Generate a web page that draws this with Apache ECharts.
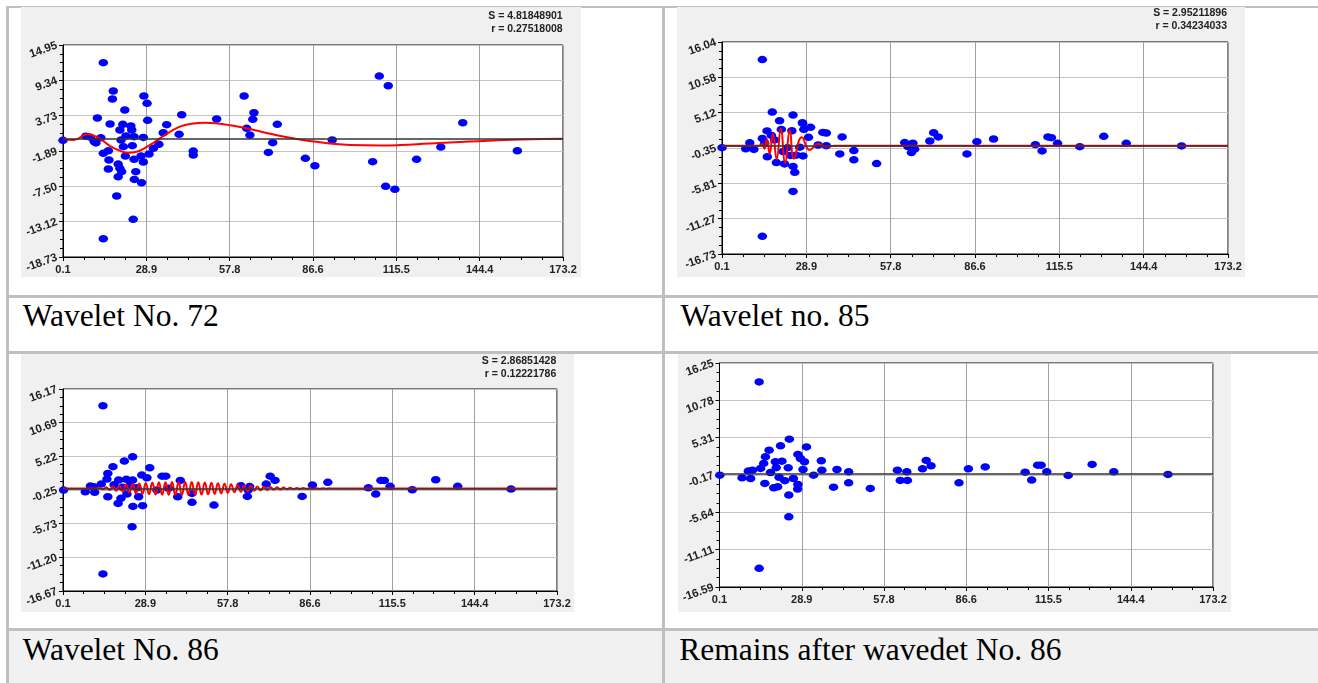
<!DOCTYPE html>
<html><head><meta charset="utf-8">
<script src="https://cdn.jsdelivr.net/npm/echarts@6/dist/echarts.min.js"></script>
<style>
html,body{margin:0;padding:0;background:#fff;width:1318px;height:683px;overflow:hidden;position:relative}
.hl{position:absolute;left:6px;width:1312px;background:#c0c0c0}
.vl{position:absolute;top:6px;height:677px;width:3px;background:#c0c0c0}
.cap{position:absolute;font-family:"Liberation Serif","Times New Roman",serif;font-size:31.5px;line-height:1;color:#000;white-space:nowrap}
.panel{position:absolute}
</style></head>
<body>
<div style="position:absolute;left:8px;top:631px;width:1310px;height:52px;background:#f1f1f1"></div>
<div class="hl" style="top:5.5px;height:2px"></div>
<div class="hl" style="top:294.5px;height:3px"></div>
<div class="hl" style="top:351px;height:3px"></div>
<div class="hl" style="top:628px;height:3px"></div>
<div class="vl" style="left:6px"></div>
<div class="vl" style="left:661.5px"></div>
<div class="cap" style="left:22.7px;top:300.3px">Wavelet No. 72</div>
<div class="cap" style="left:680.5px;top:300.3px">Wavelet no. 85</div>
<div class="cap" style="left:22.7px;top:633.6px">Wavelet No. 86</div>
<div class="cap" style="left:679.3px;top:633.6px">Remains after wavedet No. 86</div>
<div id="c1" class="panel" style="left:21px;top:7px;width:560px;height:270px"></div>
<div id="c2" class="panel" style="left:677px;top:7px;width:568px;height:270px"></div>
<div id="c3" class="panel" style="left:21px;top:354px;width:553px;height:258px"></div>
<div id="c4" class="panel" style="left:678px;top:354px;width:553px;height:258px"></div>
<script>
// ---------------- data ----------------
const xTickLabels = ['0.1','28.9','57.8','86.6','115.5','144.4','173.2'];
const w72YTicks = ['-18.73','-13.12','-7.50','-1.89','3.73','9.34','14.95'];
const w85YTicks = ['-16.73','-11.27','-5.81','-0.35','5.12','10.58','16.04'];
const w86YTicks = ['-16.67','-11.20','-5.73','-0.25','5.22','10.69','16.17'];
const remYTicks = ['-16.59','-11.11','-5.64','-0.17','5.31','10.78','16.25'];

const w72Stats = ['S = 4.81848901','r = 0.27518008'];
const w85Stats = ['S = 2.95211896','r = 0.34234033'];
const w86Stats = ['S = 2.86851428','r = 0.12221786'];

const w72Points = [[0.1,-0.2],[8.0,0.45],[9.5,0.3],[10.9,-0.4],[11.5,-0.6],[13.2,0.2],
[12.0,3.35],[14.05,12.14],[17.5,7.64],[17.2,6.37],[16.4,2.40],
[14.05,-2.26],[15.8,-1.85],[16.0,-3.32],[15.8,-4.75],[19.2,-3.96],[19.8,-4.64],[19.2,-5.98],[20.4,-5.18],[18.7,-9.04],[14.05,-15.83],[24.4,-12.75],
[21.5,4.62],[20.8,2.35],[19.8,1.45],[23.6,2.08],[23.9,1.45],[21.9,0.49],[24.7,0.38],[20.2,-0.14],[21.0,-1.21],[24.1,-1.05],[21.7,-2.69],[24.7,-3.22],[27.1,-2.69],[27.9,-3.64],[25.3,-5.18],[24.8,-6.40],[27.3,-6.93],[27.9,0.27],[28.1,6.85],[29.2,5.69],[29.4,2.98],[29.9,-2.37],[31.4,-1.47],[33.3,-0.83],[34.8,1.01],[36.0,2.29],[40.3,0.76],[41.2,3.87],[45.2,-1.90],[45.2,-2.53],
[53.3,3.19],[62.8,6.85],[66.2,4.19],[65.8,3.14],[63.7,1.71],[64.8,0.64],[74.3,2.35],[72.7,-0.57],[71.2,-2.11],[84.0,-3.06],[87.3,-4.23],[93.3,-0.14],
[109.6,10.02],[112.7,8.48],[107.3,-3.59],[111.8,-7.50],[115.0,-7.98],[122.5,-3.22],[130.9,-1.26],[138.5,2.60],[157.4,-1.85]];
const w72Curve = [[0.1,0.1],[3.7,-0.15],[8.5,0.76],[11.2,0.45],[13.6,-0.15],[16.4,-1.1],[19.2,-1.74],[22.7,-2.17],[25.6,-2.0],[28.5,-1.38],[31.9,-0.42],[35.4,0.65],[40.0,1.87],[44.6,2.45],[49.3,2.58],[53.0,2.5],[57.9,2.2],[64.8,1.62],[71.8,0.85],[78.7,0.2],[85.6,-0.3],[92.5,-0.7],[99.5,-0.95],[109.8,-1.02],[116.8,-0.95],[127.2,-0.7],[141.0,-0.4],[158.3,-0.07],[173.2,0.06]];

const w85Points = [[0.1,-0.29],[8.2,-0.47],[9.6,0.45],[11.0,-0.57],[13.9,1.13],[14.7,0.39],[13.9,13.33],[13.9,-14.0],[15.5,2.3],[17.3,5.21],[19.8,3.87],[24.4,4.74],[20.4,2.53],[24.0,2.32],[27.6,3.57],[27.7,3.46],[28.1,2.53],[30.4,2.85],[29.7,1.31],[18.1,0.9],[17.0,1.6],[22.5,-0.3],[23.5,-1.5],[15.6,-1.7],[18.7,-2.6],[21.5,-2.8],[24.4,-3.2],[25.0,-4.1],[24.4,-7.06],[21.0,-0.9],[26.7,-0.22],[27.8,-1.57],[25.5,-1.46],[34.6,2.07],[35.8,1.96],[33.0,0.12],[35.8,0.02],[41.2,1.36],[40.4,-1.26],[45.2,-0.74],[45.2,-2.18],[53.0,-2.75],[62.6,0.49],[63.7,-0.12],[65.4,0.4],[66.0,-0.52],[64.9,-1.05],[71.2,0.74],[72.5,2.03],[74.1,1.36],[83.9,-1.26],[87.3,0.63],[93.0,1.05],[107.3,0.17],[109.6,-0.8],[111.6,1.36],[112.8,1.25],[114.9,0.38],[122.5,-0.14],[130.7,1.46],[138.4,0.38],[157.3,-0.03]];
const w85Curve = [[0.1,0],[12.5,0],[13.0,0.05],[13.8,0.33],[14.6,-0.45],[15.5,1.0],[16.4,-1.26],[17.5,1.82],[18.8,-2.08],[20.2,2.64],[21.7,-2.6],[23.3,2.43],[24.7,-1.99],[27.4,1.31],[30.1,-0.65],[33.0,0.28],[35.8,-0.14],[38.6,0],[173.2,0]];

const w86Points = [[0.3,-0.26],[7.9,-0.54],[9.7,0.39],[10.8,0.28],[11.2,-0.63],[13.5,0.72],[14.1,13.45],[14.1,-13.9],[15.5,1.52],[15.8,2.45],[17.6,3.54],[21.6,4.45],[24.5,5.15],[30.5,3.37],[27.7,2.17],[29.5,1.74],[19.6,1.37],[22.3,1.48],[24.5,1.37],[23.6,0.55],[21.0,0.2],[18.0,0.6],[22.5,-0.9],[26.0,0.1],[15.8,-1.35],[19.4,-2.43],[20.4,-1.61],[24.6,-2.92],[28.0,-2.8],[26.6,-1.35],[24.3,-6.23],[33.0,-0.26],[34.8,2.0],[36.1,2.0],[37.1,0.02],[41.2,1.31],[40.3,-1.35],[45.3,-0.8],[45.3,-2.26],[53.0,-2.7],[62.4,0.44],[65.0,-0.26],[65.5,0.3],[64.7,-1.29],[71.3,0.72],[72.7,2.0],[74.4,1.31],[83.9,-1.29],[87.5,0.55],[92.9,0.99],[107.1,0.11],[109.7,-0.91],[111.5,1.31],[112.7,1.31],[114.7,0.34],[122.5,-0.21],[130.7,1.42],[138.4,0.34],[157.1,-0.1]];
const w86Curve = [[0.1,0],[12.2,0],
[13.0,0.08],[14.15,-0.12],[15.3,0.18],[16.45,-0.24],[17.6,0.3],[18.75,-0.38],[19.9,0.45],[21.05,-0.52],[22.2,0.6],[23.35,-0.66],[24.5,0.72],[25.65,-0.78],[26.8,0.82],[27.95,-0.86],[29.1,0.9],[30.25,-0.93],[31.4,0.96],[32.55,-0.98],[33.7,1.0],[34.85,-1.02],[36.0,1.03],[37.15,-1.04],[38.3,1.05],[39.45,-1.05],[40.6,1.05],[41.75,-1.05],[42.9,1.05],[44.05,-1.04],[45.2,1.04],[46.35,-1.03],[47.5,1.02],[48.65,-1.0],[49.8,0.98],[50.95,-0.95],[52.1,0.92],[53.25,-0.88],[54.4,0.84],[55.55,-0.8],[56.7,0.76],[57.85,-0.72],[59.0,0.68],[60.15,-0.62],[61.3,0.57],[62.45,-0.52],[63.6,0.47],[64.75,-0.43],[65.9,0.4],[67.05,-0.36],[68.2,0.33],[69.35,-0.3],[70.5,0.27],[71.65,-0.24],[72.8,0.22],[73.95,-0.2],[75.1,0.18],[76.25,-0.16],[77.4,0.14],[78.55,-0.12],[79.7,0.11],[80.85,-0.1],[82.0,0.09],[83.15,-0.08],[84.3,0.07],[85.45,-0.06],[86.6,0.05],[87.75,-0.05],[88.9,0.04],[90.05,-0.04],[91.2,0.03],[92.35,-0.03],[93.5,0.02],[94.65,-0.02],[96.0,0],[173.2,0]];

const remPoints = [[0.2,-0.2],[8.0,-0.59],[10.2,0.4],[11.0,-0.68],[11.7,0.54],[14.5,0.79],[14.0,13.47],[14.0,-13.85],[15.6,1.52],[16.2,2.49],[17.5,3.47],[21.5,4.1],[24.6,5.08],[30.6,3.95],[19.7,1.76],[22.0,1.86],[24.2,0.88],[18.0,0.2],[21.0,-0.5],[23.0,-1.0],[26.0,-0.68],[20.0,0.9],[16.0,-1.41],[19.1,-2.05],[20.5,-1.9],[24.4,-3.12],[27.5,-2.24],[27.6,-1.55],[27.6,2.84],[28.5,2.25],[29.9,1.76],[29.4,0.64],[24.4,-6.3],[33.1,-0.2],[35.8,1.91],[36.0,0.54],[41.3,0.64],[40.1,-1.95],[45.4,0.29],[45.4,-1.32],[53.0,-2.14],[62.5,0.54],[63.5,-0.97],[65.8,0.29],[66.0,-0.97],[71.3,0.73],[72.6,1.96],[74.3,1.17],[84.1,-1.32],[87.4,0.73],[93.3,1.02],[107.3,0.25],[109.6,-0.92],[111.7,1.27],[112.9,1.27],[114.9,0.29],[122.4,-0.23],[130.8,1.38],[138.4,0.29],[157.4,-0.09]];

// ---------------- builder ----------------
function nearestLabel(labels){
  return function(v){
    let best = labels[0], bd = Infinity;
    labels.forEach(l => { const d = Math.abs(parseFloat(l) - v); if (d < bd) { bd = d; best = l; } });
    return best;
  };
}
const FONT = '"Liberation Sans", Arial, sans-serif';
function build(cfg){
  const yMin = parseFloat(cfg.yTicks[0]), yMax = parseFloat(cfg.yTicks[cfg.yTicks.length-1]);
  const xMin = parseFloat(xTickLabels[0]), xMax = parseFloat(xTickLabels[xTickLabels.length-1]);
  const series = [{
    type:'scatter', data: cfg.points, symbol:'circle', symbolSize:[9.5,7.5],
    itemStyle:{color:'#0000ff', opacity:1}, z:3, silent:true,
    markLine:{silent:true, symbol:['none','none'], label:{show:false}, animation:false,
      lineStyle:{color:'#333', width:1.5, type:'solid'}, data:[{yAxis:0}]}
  }];
  if (cfg.curve) series.push({
    type:'line', data: cfg.curve, showSymbol:false, symbol:'none', smooth: cfg.smooth,
    lineStyle:{color:'#ff0000', width:2}, z:4, silent:true
  });
  const graphic = [];
  if (cfg.stats) {
    cfg.stats.forEach((t,i) => graphic.push({type:'text', x: cfg.statX, y: cfg.statY[i],
      style:{text:t, align:'right', verticalAlign:'middle', font:'bold 10.5px ' + FONT, fill:'#222'}}));
  }
  return {
    animation:false, backgroundColor:'#f0f0f0',
    grid:{left:cfg.grid[0], top:cfg.grid[1], right:cfg.grid[2], bottom:cfg.grid[3], show:true,
      backgroundColor:'#fff', borderColor:'#000', borderWidth:1},
    xAxis:{type:'value', min:xMin, max:xMax, interval:(xMax-xMin)/6 + 1e-6,
      axisLine:{show:true, onZero:false, lineStyle:{color:'#000', width:1}},
      axisTick:{show:true, length:4, lineStyle:{color:'#000'}},
      minorTick:{show:true, splitNumber:4, length:3, lineStyle:{color:'#000'}},
      splitLine:{show:true, lineStyle:{color:'#a0a0a0', width:1}},
      axisLabel:{formatter: nearestLabel(xTickLabels), fontSize:11, fontWeight:'bold', color:'#222', margin:7, fontFamily:FONT}},
    yAxis:{type:'value', min:yMin, max:yMax, interval:(yMax-yMin)/6 + 1e-6,
      axisLine:{show:true, onZero:false, lineStyle:{color:'#000', width:1}},
      axisTick:{show:true, length:4, lineStyle:{color:'#000'}},
      minorTick:{show:true, splitNumber:4, length:3, lineStyle:{color:'#000'}},
      splitLine:{show:true, lineStyle:{color:'#c4c4c4', width:1}},
      axisLabel:{formatter: nearestLabel(cfg.yTicks), rotate:20, fontSize:11.5, fontWeight:'bold', color:'#222', margin:6, fontFamily:FONT}},
    series, graphic
  };
}
const charts = [
  {id:'c1', yTicks:w72YTicks, points:w72Points, curve:w72Curve, smooth:0.5, stats:w72Stats, statX:541.7, statY:[9.5,22.2], grid:[42,38,18,20]},
  {id:'c2', yTicks:w85YTicks, points:w85Points, curve:w85Curve, smooth:0.5, stats:w85Stats, statX:550, statY:[5.8,18.8], grid:[45,35,17,23]},
  {id:'c3', yTicks:w86YTicks, points:w86Points, curve:w86Curve, smooth:0.5, stats:w86Stats, statX:535.3, statY:[7.5,19.8], grid:[42,35,17,21]},
  {id:'c4', yTicks:remYTicks, points:remPoints, curve:null, grid:[41,9,18,25]}
];
charts.forEach(c => {
  const inst = echarts.init(document.getElementById(c.id));
  inst.setOption(build(c));
});
</script>
</body></html>
